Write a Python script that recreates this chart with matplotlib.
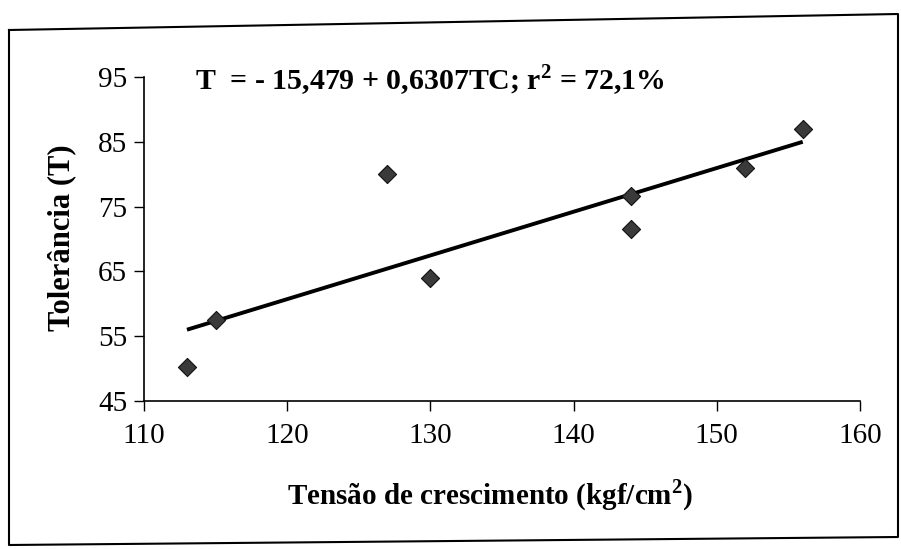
import matplotlib
matplotlib.use("Agg")
import matplotlib.pyplot as plt
from matplotlib.lines import Line2D

# Data
tension = [113, 115, 127, 130, 144, 144, 152, 156]
tolerance = [50.3, 57.5, 80.0, 64.0, 76.6, 71.5, 81.0, 87.0]
fit_x = [113, 156]
fit_y = [56.0, 85.0]
xticks = [110, 120, 130, 140, 150, 160]
yticks = [45, 55, 65, 75, 85, 95]
equation = r"T  = - 15,479 + 0,6307TC; r$^{\mathbf{2}}$ = 72,1%"

plt.rcParams['font.family'] = ['Liberation Serif', 'DejaVu Serif']
plt.rcParams['mathtext.fontset'] = 'custom'
plt.rcParams['mathtext.rm'] = 'Liberation Serif'
plt.rcParams['mathtext.bf'] = 'Liberation Serif:bold'

fig = plt.figure(figsize=(9.01, 5.49), dpi=100)
W, H = 901, 549
ax = fig.add_axes([144 / W, 1 - 401 / H, (860 - 144) / W, (401 - 77) / H])

ax.plot(fit_x, fit_y, color='black', lw=2.8, solid_capstyle='butt', zorder=2)
ax.scatter(tension, tolerance, marker='D', s=85, color='#3a3a3a',
           edgecolors='#111111', linewidths=0.8, zorder=3)

ax.set_xlim(110, 160)
ax.set_ylim(45, 95)
ax.set_xticks(xticks)
ax.set_yticks(yticks)
ax.tick_params(axis='both', direction='out', length=7, width=1,
               labelsize=21, colors='black')
ax.tick_params(axis='x', pad=9)
ax.tick_params(axis='y', pad=5)
for s in ['top', 'right']:
    ax.spines[s].set_visible(False)
for s in ['left', 'bottom']:
    ax.spines[s].set_linewidth(1.2)

ax.set_xlabel("Tensão de crescimento (kgf/cm$^{\\mathbf{2}}$)", fontsize=21,
              fontweight='bold')
ax.xaxis.set_label_coords((490 - 144) / (860 - 144), -(495 - 401) / (401 - 77))
ax.xaxis.label.set_va('center')
ax.set_ylabel("Tolerância (T)", fontsize=22, fontweight='bold')
ax.yaxis.set_label_coords(-(144 - 62) / (860 - 144), (401 - 238) / (401 - 77))
ax.yaxis.label.set_va('center')

fig.text(195 / W, 1 - 80 / H, equation, fontsize=21.5, fontweight='bold',
         ha='left', va='center')

# border frame of the figure
frame = [(9, 30), (898, 14), (898, 537), (9, 545), (9, 30)]
fig.add_artist(Line2D([p[0] / W for p in frame], [1 - p[1] / H for p in frame],
                      color='black', lw=1.5, transform=fig.transFigure))

fig.savefig("out.png", dpi=100)
